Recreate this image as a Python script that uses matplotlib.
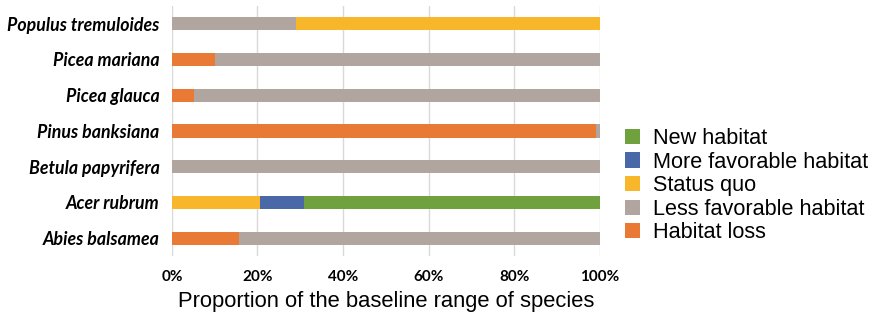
import matplotlib.pyplot as plt
import numpy as np

species = ['Abies balsamea', 'Acer rubrum', 'Betula papyrifera', 'Pinus banksiana',
           'Picea glauca', 'Picea mariana', 'Populus tremuloides']
categories = ['Habitat loss', 'Less favorable habitat', 'Status quo',
              'More favorable habitat', 'New habitat']
colors = ['#E97A35', '#B1A59F', '#F8B72A', '#4A68A8', '#6FA23E']

# proportion (%) of baseline range, per category, same order as species
habitat_loss = [15.7, 0, 0, 99.1, 5.1, 10.0, 0]
less_favorable = [84.3, 0, 100, 0.9, 94.9, 90.0, 29.1]
status_quo = [0, 20.7, 0, 0, 0, 0, 70.9]
more_favorable = [0, 10.2, 0, 0, 0, 0, 0]
new_habitat = [0, 69.1, 0, 0, 0, 0, 0]

series = [habitat_loss, less_favorable, status_quo, more_favorable, new_habitat]

fig = plt.figure(figsize=(8.77, 3.27), dpi=100)
ax = fig.add_axes([0.196, 0.217, 0.488, 0.765])

y = np.arange(len(species))
left = np.zeros(len(species))
handles = []
for vals, lab, col in zip(series, categories, colors):
    b = ax.barh(y, vals, left=left, height=0.37, color=col, label=lab, zorder=3)
    handles.append(b)
    left += np.array(vals)

ax.set_xlim(0, 100)
ax.set_ylim(-0.5, len(species) - 0.5)
ax.set_xticks([0, 20, 40, 60, 80, 100])
ax.set_xticklabels([f'{v}%' for v in [0, 20, 40, 60, 80, 100]],
                   fontfamily='Lato', fontweight='bold', fontsize=11)
ax.set_yticks(y)
ax.set_yticklabels(species, fontfamily='Lato', fontweight='bold',
                   fontstyle='italic', fontsize=12.8)
ax.tick_params(length=0, pad=9)
ax.tick_params(axis='x', pad=10)
ax.grid(axis='x', color='#D9D9D9', linewidth=1, zorder=0)
for s in ax.spines.values():
    s.set_visible(False)

ax.set_xlabel('Proportion of the baseline range of species',
              fontfamily='Liberation Sans', fontsize=15.8, labelpad=5)

fig.legend(handles[::-1], categories[::-1], loc='upper left',
           bbox_to_anchor=(0.703, 0.635), frameon=False,
           prop={'family': 'Liberation Sans', 'size': 15.6},
           handlelength=0.7, handleheight=0.7, handletextpad=0.6,
           labelspacing=0.12, borderaxespad=0)

fig.savefig('out.png', dpi=100)
